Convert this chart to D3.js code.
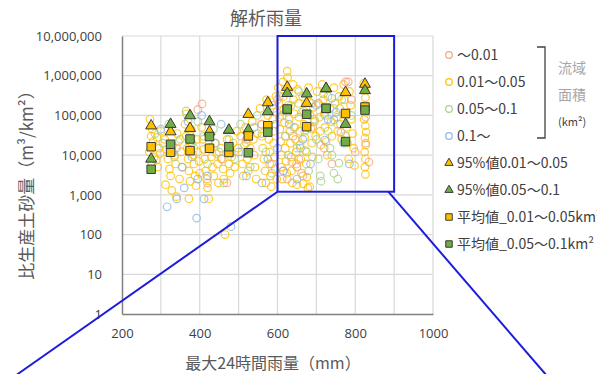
<!DOCTYPE html>
<html>
<head>
<meta charset="utf-8">
<script src="https://cdn.jsdelivr.net/npm/d3@7/dist/d3.min.js"></script>
<style>
  html, body { margin: 0; padding: 0; background: #fff; }
  svg { display: block; font-family: "Noto Sans CJK JP", "Noto Sans", sans-serif; }
</style>
</head>
<body>
<svg id="chart" width="597" height="374"></svg>
<script>
// Observed events: [max 24h rainfall (mm), specific sediment yield (m3/km2)]
const ptsUnder001 = [
  [406,195000],[395,140000],[340,15000],[420,2000],[470,2000],[455,8000],[520,25000],
  [560,60000],[585,6000],[600,250000],[615,4000],[625,2500],[637,6700],[650,5000],
  [640,30000],[655,8000],[665,3000],[690,50000],[705,200000],[720,15000],[740,6000],
  [763,38000],[775,700000],[782,700000],[790,250000],[800,12000],[827,20000],[827,90000],[835,6700]
];
const pts001to005 = [
  [272,80000],[278,45000],[275,30000],[280,22000],[270,12000],[283,9000],[276,6500],[290,28000],
  [295,15000],[288,7500],[300,40000],[298,11000],[292,5000],
  [310,25000],[315,14000],[318,8000],[322,4500],[325,3000],[330,18000],[335,10000],[338,6000],
  [342,35000],[345,22000],[348,2500],[312,1800],[328,1300],[340,900],[352,12000],[355,5000],
  [362,60000],[365,30000],[368,15000],[370,8000],[372,4000],[375,2200],[378,45000],[380,20000],
  [383,10000],[385,6000],[388,3000],[390,1700],[393,25000],[395,12000],[398,7000],[400,3500],
  [366,110000],[372,800],
  [405,50000],[408,25000],[410,14000],[413,8000],[415,4000],[418,2500],[420,1500],[425,30000],
  [428,16000],[430,9000],[433,5000],[436,3000],[440,20000],[443,11000],[446,6000],[448,2000],[423,800],
  [455,15000],[458,8000],[460,4500],[462,2500],[465,100],[470,25000],[472,12000],[475,6000],
  [478,3500],[482,9000],[486,20000],[490,5000],[495,40000],[498,15000],
  [505,30000],[508,12000],[510,6000],[512,3000],[518,50000],[520,20000],[522,8000],[525,4000],
  [530,15000],[535,70000],[538,25000],[540,10000],[542,5000],[545,2500],[548,35000],
  [555,150000],[558,60000],[560,30000],[562,15000],[565,8000],[568,4000],[570,2000],[572,250000],
  [575,100000],[576,50000],[578,25000],[580,12000],[580,6000],[582,3000],[584,1600],[586,180000],
  [588,80000],[590,40000],[590,20000],[592,9000],[594,4500],[596,300000],[598,120000],[598,2500],
  [602,500000],[604,200000],[605,90000],[606,45000],[608,22000],[610,10000],[610,5000],[612,2500],
  [614,700000],[615,300000],[616,140000],[618,65000],[620,30000],[620,15000],[622,7000],[624,3500],
  [625,1300000],[626,900000],[628,400000],[628,180000],[630,80000],[632,40000],[633,20000],
  [635,9000],[636,4000],[638,2000],[640,600000],[641,250000],[643,110000],[645,50000],[646,25000],
  [648,12000],[649,6000],[650,1800],
  [652,450000],[654,200000],[655,90000],[657,40000],[658,18000],[660,8000],[662,3500],[665,300000],
  [666,1900],[667,130000],[668,60000],[670,28000],[672,13000],[674,6000],[676,2800],[678,1500],
  [680,500000],[682,220000],[683,1600],[684,100000],[686,45000],[688,20000],[690,9000],[692,160000],
  [695,70000],[698,30000],
  [702,400000],[705,200000],[708,90000],[710,40000],[712,18000],[715,600000],[718,250000],
  [720,110000],[722,50000],[725,22000],[728,10000],[730,300000],[735,150000],[738,70000],
  [740,30000],[745,500000],[748,200000],
  [752,90000],[755,40000],[758,300000],[760,150000],[762,60000],[765,25000],[770,600000],
  [772,250000],[775,110000],[778,50000],[780,20000],[783,8000],[785,400000],[788,180000],
  [790,80000],[793,35000],[796,15000],[798,5500],
  [822,650000],[825,450000],[826,280000],[824,180000],[827,120000],[823,80000],[826,55000],
  [828,38000],[825,27000],[827,18000],[824,12000],[826,8000],[825,5000],[826,3300]
];
const pts005to01 = [
  [285,35000],[305,20000],[320,60000],[335,9000],[350,25000],[365,130000],[375,40000],[385,15000],
  [395,70000],[410,30000],[420,6000],[435,45000],[450,12000],[462,2000],[475,25000],[490,8000],
  [505,60000],[515,18000],[530,5000],[548,100000],[560,35000],[570,12000],[585,3500],[595,60000],
  [605,300000],[612,100000],[620,30000],[628,10000],[635,180000],[642,50000],[650,15000],
  [655,400000],[662,120000],[670,40000],[675,12000],[680,4000],[688,200000],[695,80000],
  [700,25000],[705,8000],[710,3000],[712,2200],[718,350000],[722,100000],[730,40000],[735,15000],
  [740,10000],[745,150000],[745,3500],[755,60000],[755,2500],[758,6300],[765,250000],[775,30000],[790,100000]
];
const ptsOver01 = [
  [316,500],[341,790],[360,1500],[392,260],[411,790],[480,158],[300,45000],[330,12000],
  [355,5000],[370,70000],[380,9000],[395,2500],[405,100000],[420,3000],[440,20000],[455,60000],
  [500,12000],[520,3000],[540,50000],[560,2000],[575,8000],[590,150000],[600,15000],
  [615,4000],[630,60000],[650,2500],[659,15000],[665,25000],[685,6000],[700,180000],[722,24000],
  [730,80000],[740,270000],[745,77000],[750,120000],[770,20000],[785,6000]
];

// Summary statistics per 50 mm rainfall bin
const binCenters = [275,325,375,425,475,525,575,625,675,725,775,825];
const p95_001to005 = [55000,39000,47500,39000,42000,107000,210000,515000,203000,470000,380000,615000];
const p95_005to01  = [8000,60000,99000,70000,43000,43000,125000,360000,350000,480000,60000,425000];
const mean_001to005 = [16300,11800,13000,14900,11700,30500,55000,140000,52000,150000,112000,163000];
const mean_005to01  = [4400,18800,25500,29400,16300,11500,38000,145000,107000,151000,22000,136000];

const xTicks = [200,400,600,800,1000];
const yTicks = [1,10,100,1000,10000,100000,1000000,10000000];

// Zoomed region outline and the two callout strokes (data units)
const zoomBox = { x0: 600, x1: 900, y0: 1200, y1: 10000000 };
const callouts = [[[600,1200],[-70,0.03]], [[885,1200],[1290,0.03]]];

const svg = d3.select("#chart");
const m = { left: 122, top: 36, right: 433, bottom: 314 };

const x = d3.scaleLinear().domain([200,1000]).range([m.left, m.right]);
const y = d3.scaleLog().domain([1,10000000]).range([m.bottom, m.top]);

const textCol = "#404040";

// grid
const grid = svg.append("g");
grid.selectAll("line.v").data(d3.range(300,1001,100)).join("line")
  .attr("x1", d => x(d)).attr("x2", d => x(d))
  .attr("y1", m.top).attr("y2", m.bottom)
  .attr("stroke", "#d9d9d9").attr("stroke-width", 1.2);
grid.selectAll("line.h").data(yTicks.slice(1)).join("line")
  .attr("x1", m.left).attr("x2", m.right)
  .attr("y1", d => y(d)).attr("y2", d => y(d))
  .attr("stroke", "#d9d9d9").attr("stroke-width", 1.2);

// axes
const xAxis = svg.append("g").attr("transform", `translate(0,${m.bottom})`)
  .call(d3.axisBottom(x).tickValues(xTicks).tickFormat(d3.format("d")).tickSize(0).tickPadding(15));
const yAxis = svg.append("g").attr("transform", `translate(${m.left},0)`)
  .call(d3.axisLeft(y).tickValues(yTicks).tickFormat(d3.format(",")).tickSize(0).tickPadding(20));
[xAxis, yAxis].forEach(a => {
  a.select(".domain").attr("stroke", "#808080").attr("stroke-width", 1.5);
  a.selectAll("text").attr("fill", textCol).style("font-size", "13px")
    .style("font-family", "'Open Sans', 'Noto Sans', sans-serif");
});

// scatter of observed events
const circleSets = [
  { data: pts001to005, color: "#ffc000" },
  { data: pts005to01, color: "#a9d18e" },
  { data: ptsUnder001, color: "#f4a582" },
  { data: ptsOver01, color: "#8fb8e0" }
];
circleSets.forEach(s => {
  svg.append("g").selectAll("circle").data(s.data).join("circle")
    .attr("cx", d => x(d[0])).attr("cy", d => y(d[1])).attr("r", 3.8)
    .attr("fill", "none").attr("stroke", s.color).attr("stroke-width", 1.2)
    .attr("stroke-opacity", 0.8);
});

// summary markers
const tri = d3.symbol().type(d3.symbolTriangle).size(52);
const sq = d3.symbol().type(d3.symbolSquare).size(72);
function markers(vals, sym, fill) {
  svg.append("g").selectAll("path").data(binCenters.map((c, i) => [c, vals[i]])).join("path")
    .attr("d", sym)
    .attr("transform", d => `translate(${x(d[0])},${y(d[1])})`)
    .attr("fill", fill).attr("stroke", "#3a3a3a").attr("stroke-width", 1);
}
markers(p95_001to005, tri, "#ffc000");
markers(p95_005to01, tri, "#70ad47");
markers(mean_001to005, sq, "#ffc000");
markers(mean_005to01, sq, "#70ad47");

// zoom callout
const blue = "#1c1cdc";
svg.append("rect")
  .attr("x", x(zoomBox.x0)).attr("y", y(zoomBox.y1))
  .attr("width", x(zoomBox.x1) - x(zoomBox.x0)).attr("height", y(zoomBox.y0) - y(zoomBox.y1))
  .attr("fill", "none").attr("stroke", blue).attr("stroke-width", 2);
svg.append("g").selectAll("line").data(callouts).join("line")
  .attr("x1", d => x(d[0][0])).attr("y1", d => y(d[0][1]))
  .attr("x2", d => x(d[1][0])).attr("y2", d => y(d[1][1]))
  .attr("stroke", blue).attr("stroke-width", 2);

// titles
svg.append("text").attr("x", 266).attr("y", 25).attr("text-anchor", "middle")
  .attr("fill", "#595959").style("font-size", "18px").text("解析雨量");
svg.append("text").attr("x", 273).attr("y", 369).attr("text-anchor", "middle")
  .attr("fill", "#595959").style("font-size", "16px").text("最大24時間雨量（mm）");
svg.append("text").attr("transform", "translate(33,181) rotate(-90)").attr("text-anchor", "middle")
  .attr("fill", "#595959").style("font-size", "17px").text("比生産土砂量（m³/km²）");

// legend
const legendItems = [
  { label: "〜0.01", kind: "c", color: "#f4a582" },
  { label: "0.01〜0.05", kind: "c", color: "#ffc000" },
  { label: "0.05〜0.1", kind: "c", color: "#a9d18e" },
  { label: "0.1〜", kind: "c", color: "#8fb8e0" },
  { label: "95%値0.01〜0.05", kind: "t", color: "#ffc000" },
  { label: "95%値0.05〜0.1", kind: "t", color: "#70ad47" },
  { label: "平均値_0.01〜0.05km²", kind: "s", color: "#ffc000" },
  { label: "平均値_0.05〜0.1km²", kind: "s", color: "#70ad47" }
];
const lg = svg.append("g");
const legTri = d3.symbol().type(d3.symbolTriangle).size(30);
const legSq = d3.symbol().type(d3.symbolSquare).size(42);
legendItems.forEach((it, i) => {
  const cy = 55 + i * 27;
  if (it.kind === "c") {
    lg.append("circle").attr("cx", 449).attr("cy", cy).attr("r", 3.3)
      .attr("fill", "none").attr("stroke", it.color).attr("stroke-width", 1.2);
  } else {
    lg.append("path").attr("d", it.kind === "t" ? legTri : legSq)
      .attr("transform", `translate(449,${cy})`)
      .attr("fill", it.color).attr("stroke", "#3a3a3a").attr("stroke-width", 1);
  }
  lg.append("text").attr("x", 457).attr("y", cy).attr("dy", "0.35em")
    .attr("fill", textCol).style("font-size", "14px").text(it.label);
});

// bracket grouping the catchment-area classes
lg.append("path").attr("d", "M537,47 H545 V138 H537")
  .attr("fill", "none").attr("stroke", "#404040").attr("stroke-width", 1.3);
lg.append("text").attr("x", 558).attr("y", 68).attr("dy", "0.35em")
  .attr("fill", "#a6a6a6").style("font-size", "14px").text("流域");
lg.append("text").attr("x", 558).attr("y", 95).attr("dy", "0.35em")
  .attr("fill", "#a6a6a6").style("font-size", "14px").text("面積");
lg.append("text").attr("x", 558).attr("y", 122).attr("dy", "0.35em")
  .attr("fill", textCol).style("font-size", "11px").text("(km²)");
</script>
</body>
</html>
